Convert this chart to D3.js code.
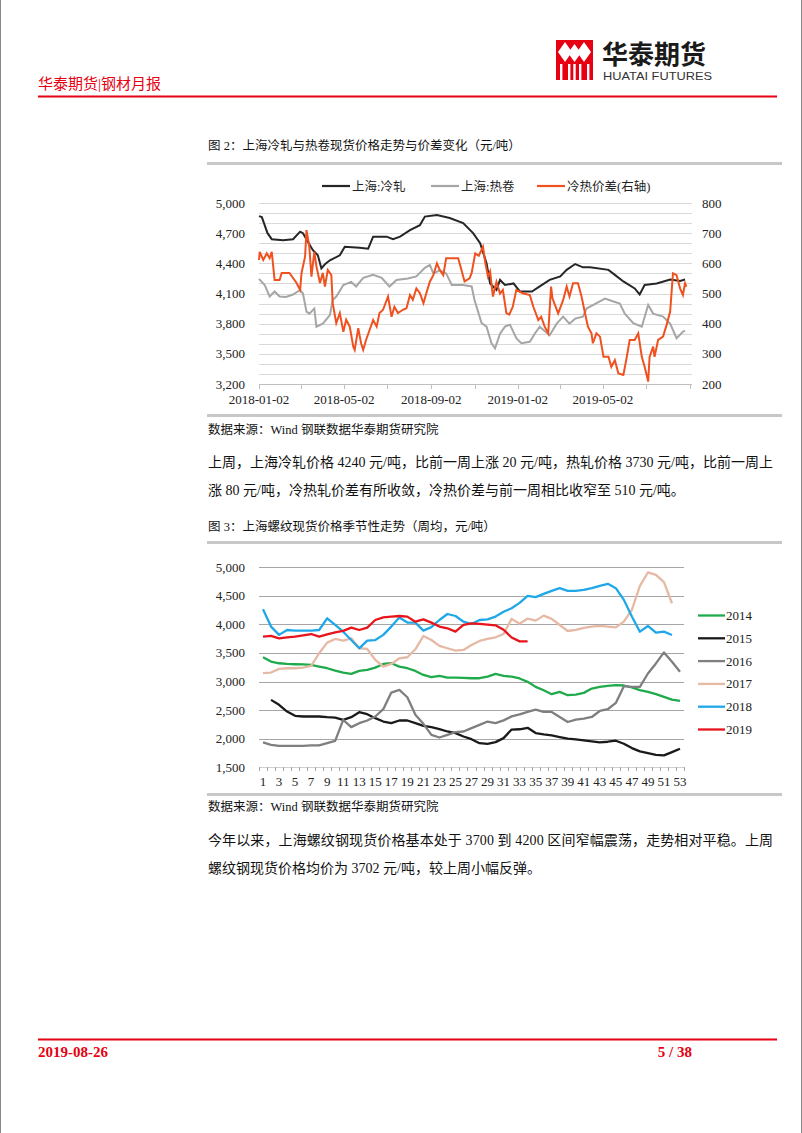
<!DOCTYPE html>
<html><head><meta charset="utf-8">
<script src="https://cdn.jsdelivr.net/npm/d3@7"></script>
<style>
html,body{margin:0;padding:0;background:#fff;}
svg{display:block;}
text{font-family:"Liberation Serif","Noto Sans CJK SC",serif;}
</style></head>
<body>
<svg id="page" width="802" height="1133"></svg>
<script>
// ---------- Chart 1 data (daily, Shanghai cold rolled / hot coil / spread) ----------
const coldRolled = [["2018-01-02",4870],["2018-01-06",4860],["2018-01-10",4780],["2018-01-14",4700],["2018-01-20",4640],["2018-02-05",4630],["2018-02-19",4640],["2018-03-01",4715],["2018-03-05",4700],["2018-03-14",4590],["2018-03-19",4530],["2018-03-26",4480],["2018-03-31",4350],["2018-04-05",4390],["2018-04-12",4430],["2018-04-26",4480],["2018-05-03",4565],["2018-05-24",4555],["2018-06-05",4545],["2018-06-12",4665],["2018-07-01",4665],["2018-07-10",4640],["2018-07-20",4665],["2018-08-03",4730],["2018-08-17",4780],["2018-08-24",4865],["2018-09-10",4880],["2018-09-28",4850],["2018-10-17",4800],["2018-10-31",4700],["2018-11-10",4600],["2018-11-19",4400],["2018-11-24",4200],["2018-12-03",4135],["2018-12-08",4235],["2018-12-15",4185],["2018-12-27",4200],["2019-01-05",4120],["2019-01-22",4120],["2019-02-02",4170],["2019-02-16",4235],["2019-03-03",4270],["2019-03-12",4335],["2019-03-24",4393],["2019-04-04",4360],["2019-04-14",4360],["2019-05-10",4335],["2019-05-19",4285],["2019-05-31",4220],["2019-06-16",4150],["2019-06-23",4090],["2019-06-30",4185],["2019-07-17",4200],["2019-08-05",4240],["2019-08-19",4225],["2019-08-26",4240]];
const hotCoil = [["2018-01-02",4245],["2018-01-10",4185],["2018-01-17",4070],["2018-01-24",4120],["2018-01-31",4070],["2018-02-09",4065],["2018-02-19",4090],["2018-03-01",4135],["2018-03-05",4100],["2018-03-10",3920],["2018-03-14",3900],["2018-03-21",3950],["2018-03-24",3770],["2018-04-02",3800],["2018-04-12",3885],["2018-04-16",4035],["2018-04-21",4070],["2018-05-01",4185],["2018-05-12",4215],["2018-05-19",4170],["2018-05-29",4255],["2018-06-12",4285],["2018-06-24",4255],["2018-07-05",4170],["2018-07-15",4235],["2018-07-31",4250],["2018-08-12",4270],["2018-08-24",4355],["2018-08-31",4385],["2018-09-05",4300],["2018-09-14",4330],["2018-09-23",4300],["2018-10-01",4185],["2018-10-17",4185],["2018-10-29",4170],["2018-11-02",4035],["2018-11-12",3805],["2018-11-19",3770],["2018-11-26",3605],["2018-12-01",3555],["2018-12-08",3700],["2018-12-15",3770],["2018-12-22",3790],["2018-12-31",3655],["2019-01-07",3605],["2019-01-19",3620],["2019-01-26",3700],["2019-02-02",3770],["2019-02-16",3685],["2019-02-26",3800],["2019-03-07",3870],["2019-03-16",3800],["2019-03-24",3850],["2019-04-04",3870],["2019-04-09",3950],["2019-04-18",3985],["2019-05-05",4050],["2019-05-17",4020],["2019-05-26",4000],["2019-06-02",3900],["2019-06-14",3805],["2019-06-26",3770],["2019-07-05",3985],["2019-07-12",3900],["2019-07-26",3870],["2019-08-05",3800],["2019-08-14",3655],["2019-08-23",3720],["2019-08-26",3730]];
const spread = [["2018-01-02",611],["2018-01-03",638],["2018-01-08",611],["2018-01-13",633],["2018-01-17",617],["2018-01-20",638],["2018-01-24",545],["2018-01-31",545],["2018-02-03",568],["2018-02-14",568],["2018-02-24",535],["2018-03-01",512],["2018-03-03",568],["2018-03-08",622],["2018-03-10",710],["2018-03-14",655],["2018-03-17",556],["2018-03-21",638],["2018-03-24",590],["2018-03-29",535],["2018-04-02",568],["2018-04-05",523],["2018-04-09",578],["2018-04-14",562],["2018-04-16",468],["2018-04-21",402],["2018-04-26",435],["2018-05-01",373],["2018-05-05",413],["2018-05-10",390],["2018-05-15",324],["2018-05-17",313],["2018-05-22",385],["2018-05-26",335],["2018-05-29",313],["2018-06-02",346],["2018-06-07",379],["2018-06-12",412],["2018-06-17",390],["2018-06-21",435],["2018-06-26",446],["2018-07-03",490],["2018-07-08",423],["2018-07-12",456],["2018-07-17",435],["2018-07-24",446],["2018-07-29",451],["2018-08-03",495],["2018-08-07",479],["2018-08-12",517],["2018-08-17",501],["2018-08-22",468],["2018-08-26",501],["2018-08-31",539],["2018-09-05",561],["2018-09-10",600],["2018-09-14",578],["2018-09-19",561],["2018-09-23",617],["2018-10-10",617],["2018-10-14",583],["2018-10-19",540],["2018-10-26",550],["2018-10-29",568],["2018-11-03",633],["2018-11-08",625],["2018-11-14",655],["2018-11-17",605],["2018-11-21",556],["2018-11-24",573],["2018-11-28",490],["2018-12-03",539],["2018-12-08",500],["2018-12-12",512],["2018-12-17",435],["2018-12-21",430],["2018-12-26",456],["2018-12-31",512],["2019-01-09",501],["2019-01-19",495],["2019-01-24",456],["2019-01-31",412],["2019-02-04",423],["2019-02-09",390],["2019-02-14",368],["2019-02-18",523],["2019-02-20",484],["2019-02-28",434],["2019-03-07",478],["2019-03-12",523],["2019-03-16",490],["2019-03-21",534],["2019-03-28",534],["2019-04-02",490],["2019-04-06",445],["2019-04-11",390],["2019-04-16",368],["2019-04-18",335],["2019-04-23",368],["2019-04-28",357],["2019-05-03",290],["2019-05-10",290],["2019-05-14",257],["2019-05-19",279],["2019-05-24",235],["2019-05-31",230],["2019-06-04",279],["2019-06-09",346],["2019-06-16",346],["2019-06-21",368],["2019-06-26",290],["2019-06-30",257],["2019-07-05",208],["2019-07-07",290],["2019-07-12",324],["2019-07-14",290],["2019-07-19",346],["2019-07-26",357],["2019-07-31",396],["2019-08-05",440],["2019-08-09",567],["2019-08-14",561],["2019-08-19",517],["2019-08-23",495],["2019-08-26",534],["2019-08-28",523]];
const leftTicks1 = [3200,3500,3800,4100,4400,4700,5000];
const rightTicks1 = [200,300,400,500,600,700,800];
const dateLabels1 = ["2018-01-02","2018-05-02","2018-09-02","2019-01-02","2019-05-02"];
const dateTickMarks1 = ["2018-01-02","2018-03-02","2018-05-02","2018-07-02","2018-09-02","2018-11-02","2019-01-02","2019-03-02","2019-05-02","2019-07-02","2019-09-02"];
const legend1 = ["上海:冷轧","上海:热卷","冷热价差(右轴)"];

// ---------- Chart 2 data (weekly rebar spot, seasonal) ----------
const weeks = d3.range(1, 54);
const rebar2014 = [3424,3348,3319,3307,3302,3300,3290,3261,3232,3191,3156,3133,3185,3203,3243,3307,3319,3261,3232,3185,3115,3075,3098,3069,3069,3063,3057,3057,3086,3133,3100,3084,3053,2994,2906,2848,2778,2819,2760,2772,2801,2877,2906,2924,2936,2930,2895,2848,2819,2778,2731,2684,2661];
const rebar2015 = [null,2679,2592,2475,2400,2388,2388,2388,2376,2370,2330,2376,2463,2429,2359,2300,2271,2318,2318,2271,2225,2202,2167,2126,2097,2039,1992,1922,1911,1940,2010,2160,2165,2190,2099,2076,2058,2029,2000,1988,1971,1953,1936,1947,1965,1912,1836,1778,1749,1719,1708,1766,1825];
const rebar2016 = [1934,1893,1876,1876,1876,1876,1882,1882,1922,1963,2330,2202,2271,2318,2388,2516,2807,2853,2725,2417,2260,2068,2021,2068,2114,2126,2184,2242,2300,2271,2320,2390,2425,2470,2509,2468,2468,2380,2292,2333,2351,2380,2485,2515,2626,2918,2906,2906,3140,3316,3509,3345,3170];
const rebar2017 = [3145,3156,3220,3232,3232,3243,3272,3494,3680,3744,3715,3755,3581,3569,3377,3261,3307,3406,3424,3563,3796,3726,3622,3581,3540,3552,3639,3709,3744,3773,3830,4095,4010,4100,4064,4152,4094,3988,3883,3901,3936,3959,3971,3959,3947,4047,4251,4673,4906,4865,4737,4368,null];
const rebar2018 = [4262,3960,3815,3900,3890,3890,3890,3900,4105,3990,3870,3725,3580,3715,3725,3815,3960,4120,4030,4030,3890,3950,4075,4180,4145,4045,4005,4075,4085,4135,4220,4280,4375,4497,4474,4532,4585,4632,4585,4585,4600,4632,4673,4708,4632,4427,4135,3871,3971,3854,3871,3813,null];
const rebar2019 = [3785,3796,3755,3773,3785,3808,3830,3785,3825,3860,3884,3942,3900,3942,4075,4122,4134,4145,4134,4046,4087,4029,3960,3930,3872,3988,4017,4006,3994,3983,3905,3770,3702,3702,null,null,null,null,null,null,null,null,null,null,null,null,null,null,null,null,null,null,null];
const seriesNames2 = ["2014","2015","2016","2017","2018","2019"];
const yTicks2 = [1500,2000,2500,3000,3500,4000,4500,5000];
const xLabels2 = d3.range(1, 54, 2);

// ---------- Page ----------
const svg = d3.select("#page");
const RED = "#e60012";
svg.append("line").attr("x1",0.5).attr("x2",0.5).attr("y1",0).attr("y2",1133).attr("stroke","#888");
svg.append("line").attr("x1",801.5).attr("x2",801.5).attr("y1",0).attr("y2",1133).attr("stroke","#888");

// header logo
const logo = svg.append("g");
logo.append("rect").attr("x",556).attr("y",40).attr("width",37).attr("height",40).attr("fill",RED);
[[565,48],[584,48]].forEach(([cx,cy])=>{
  logo.append("path").attr("d",`M${cx},${cy-6}L${cx+7},${cy+4}L${cx},${cy+14}L${cx-7},${cy+4}Z`).attr("fill","#fff");
});
logo.append("path").attr("d","M574.5,44L581,53L574.5,62L568,53Z").attr("fill","#fff");
[561,569,580,588].forEach(x=>logo.append("rect").attr("x",x-1).attr("y",64).attr("width",2.4).attr("height",16).attr("fill","#fff"));
logo.append("rect").attr("x",573.3).attr("y",64).attr("width",2.4).attr("height",16).attr("fill","#fff");
svg.append("text").attr("x",602).attr("y",64).attr("font-size",26).attr("font-weight","bold")
  .style("font-family","'Noto Sans CJK SC'").attr("fill","#1a1a1a").text("华泰期货");
svg.append("text").attr("x",603).attr("y",80).attr("font-size",10.5).style("font-family","'Liberation Sans'")
  .attr("fill","#333").attr("textLength",109).attr("lengthAdjust","spacingAndGlyphs").text("HUATAI FUTURES");
svg.append("text").attr("x",38).attr("y",89).attr("font-size",15).attr("fill",RED).text("华泰期货|钢材月报");
svg.append("line").attr("x1",38).attr("x2",777).attr("y1",96.5).attr("y2",96.5).attr("stroke",RED).attr("stroke-width",2);

// footer
svg.append("line").attr("x1",38).attr("x2",777).attr("y1",1039.5).attr("y2",1039.5).attr("stroke",RED).attr("stroke-width",2);
svg.append("text").attr("x",38).attr("y",1057).attr("font-size",15).attr("font-weight","bold").attr("fill",RED).text("2019-08-26");
svg.append("text").attr("x",692).attr("y",1057).attr("text-anchor","end").attr("font-size",15).attr("font-weight","bold").attr("fill",RED).text("5 / 38");

// text blocks
function txt(x,y,s,size,opts={}){
  const t = svg.append("text").attr("x",x).attr("y",y).attr("font-size",size).attr("fill",opts.fill||"#111").text(s);
  if(opts.len){t.attr("textLength",opts.len).attr("lengthAdjust","spacing");}
  return t;
}
txt(208,150,"图 2：上海冷轧与热卷现货价格走势与价差变化（元/吨）",12.5);
svg.append("line").attr("x1",207).attr("x2",782).attr("y1",163.5).attr("y2",163.5).attr("stroke","#c8c8c8").attr("stroke-width",3);
svg.append("line").attr("x1",207).attr("x2",782).attr("y1",415.5).attr("y2",415.5).attr("stroke","#c8c8c8").attr("stroke-width",3);
txt(208,434,"数据来源：Wind 钢联数据华泰期货研究院",12.5);
txt(208,467,"上周，上海冷轧价格 4240 元/吨，比前一周上涨 20 元/吨，热轧价格 3730 元/吨，比前一周上",14,{len:565});
txt(208,495,"涨 80 元/吨，冷热轧价差有所收敛，冷热价差与前一周相比收窄至 510 元/吨。",14);
txt(208,531,"图 3：上海螺纹现货价格季节性走势（周均，元/吨）",12.5);
svg.append("line").attr("x1",207).attr("x2",782).attr("y1",542.5).attr("y2",542.5).attr("stroke","#c8c8c8").attr("stroke-width",3);
svg.append("line").attr("x1",207).attr("x2",782).attr("y1",794.5).attr("y2",794.5).attr("stroke","#c8c8c8").attr("stroke-width",3);
txt(208,811,"数据来源：Wind 钢联数据华泰期货研究院",12.5);
txt(208,845,"今年以来，上海螺纹钢现货价格基本处于 3700 到 4200 区间窄幅震荡，走势相对平稳。上周",14,{len:565});
txt(208,873,"螺纹钢现货价格均价为 3702 元/吨，较上周小幅反弹。",14);

// ---------- Chart 1 ----------
const parse = d3.utcParse("%Y-%m-%d");
const x1 = d3.scaleUtc().domain([parse("2018-01-02"), parse("2019-09-02")]).range([259, 690]);
const yL = d3.scaleLinear().domain([3200, 5000]).range([384, 203]);
const yR = d3.scaleLinear().domain([200, 800]).range([384, 203]);
const g1 = svg.append("g");
g1.selectAll("line.grid").data(d3.range(3200, 5001, 100)).join("line")
  .attr("x1",259).attr("x2",692).attr("y1",d=>Math.round(yL(d))+0.5).attr("y2",d=>Math.round(yL(d))+0.5)
  .attr("stroke","#d9d9d9").attr("stroke-width",1);
g1.append("line").attr("x1",259).attr("x2",692).attr("y1",384.5).attr("y2",384.5).attr("stroke","#bfbfbf");
g1.selectAll("line.tk").data(dateTickMarks1).join("line")
  .attr("x1",d=>Math.round(x1(parse(d)))+0.5).attr("x2",d=>Math.round(x1(parse(d)))+0.5)
  .attr("y1",384).attr("y2",389).attr("stroke","#bfbfbf");
g1.selectAll("text.xl").data(dateLabels1).join("text")
  .attr("x",d=>x1(parse(d))).attr("y",404).attr("text-anchor","middle").attr("font-size",13).attr("fill","#222").text(d=>d);
g1.selectAll("text.yl").data(leftTicks1).join("text")
  .attr("x",245).attr("y",d=>yL(d)+4.5).attr("text-anchor","end").attr("font-size",13).attr("fill","#222").text(d=>d3.format(",")(d));
g1.selectAll("text.yr").data(rightTicks1).join("text")
  .attr("x",702).attr("y",d=>yR(d)+4.5).attr("font-size",13).attr("fill","#222").text(d=>d);
const lineL = d3.line().x(d=>x1(parse(d[0]))).y(d=>yL(d[1]));
const lineR = d3.line().x(d=>x1(parse(d[0]))).y(d=>yR(d[1]));
const c1 = ["#262626","#a6a6a6","#f0511e"];
g1.append("path").datum(hotCoil).attr("d",lineL).attr("fill","none").attr("stroke",c1[1]).attr("stroke-width",2);
g1.append("path").datum(coldRolled).attr("d",lineL).attr("fill","none").attr("stroke",c1[0]).attr("stroke-width",2);
g1.append("path").datum(spread).attr("d",lineR).attr("fill","none").attr("stroke",c1[2]).attr("stroke-width",2);
const leg1x = [322,431,537];
legend1.forEach((name,i)=>{
  g1.append("line").attr("x1",leg1x[i]).attr("x2",leg1x[i]+28).attr("y1",186).attr("y2",186).attr("stroke",c1[i]).attr("stroke-width",2.2);
  g1.append("text").attr("x",leg1x[i]+30).attr("y",190.5).attr("font-size",12.5).attr("fill","#222").text(name);
});

// ---------- Chart 2 ----------
const x2 = d3.scaleLinear().domain([0.5, 53.5]).range([259, 684]);
const y2 = d3.scaleLinear().domain([1500, 5000]).range([767.3, 567.1]);
const g2 = svg.append("g");
g2.selectAll("line.grid").data(yTicks2.filter(d=>d>1500)).join("line")
  .attr("x1",259).attr("x2",684).attr("y1",d=>Math.round(y2(d))+0.5).attr("y2",d=>Math.round(y2(d))+0.5)
  .attr("stroke","#a6a6a6").attr("stroke-width",1);
g2.append("line").attr("x1",259).attr("x2",684).attr("y1",767.5).attr("y2",767.5).attr("stroke","#d0d0d0");
g2.selectAll("line.tk").data(d3.range(0.5, 54, 1)).join("line")
  .attr("x1",d=>Math.round(x2(d))+0.5).attr("x2",d=>Math.round(x2(d))+0.5).attr("y1",767).attr("y2",771)
  .attr("stroke","#a6a6a6");
g2.selectAll("text.xl").data(xLabels2).join("text")
  .attr("x",d=>x2(d)).attr("y",786).attr("text-anchor","middle").attr("font-size",13).attr("fill","#222").text(d=>d);
g2.selectAll("text.yl").data(yTicks2).join("text")
  .attr("x",245).attr("y",d=>y2(d)+4.5).attr("text-anchor","end").attr("font-size",13).attr("fill","#222").text(d=>d3.format(",")(d));
const series2 = [rebar2014, rebar2015, rebar2016, rebar2017, rebar2018, rebar2019];
const c2 = ["#1faa4c","#1a1a1a","#7f7f7f","#e6b9a4","#1fa7e8","#e8141b"];
const line2 = d3.line().defined(d=>d[1]!=null).x(d=>x2(d[0])).y(d=>y2(d[1]));
series2.forEach((s,i)=>{
  g2.append("path").datum(weeks.map((w,j)=>[w,s[j]])).attr("d",line2).attr("fill","none")
    .attr("stroke",c2[i]).attr("stroke-width",2.3).attr("stroke-linejoin","round");
});
seriesNames2.forEach((name,i)=>{
  const y = 615.5 + i*22.8;
  g2.append("line").attr("x1",698).attr("x2",725).attr("y1",y).attr("y2",y).attr("stroke",c2[i]).attr("stroke-width",2.3);
  g2.append("text").attr("x",726).attr("y",y+4.5).attr("font-size",13).attr("fill","#222").text(name);
});
</script>
</body></html>
